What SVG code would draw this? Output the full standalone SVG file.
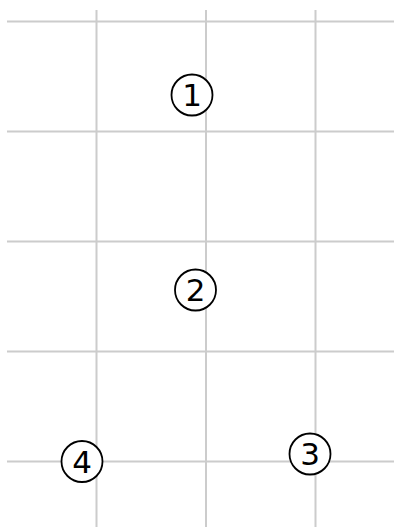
<svg xmlns="http://www.w3.org/2000/svg" width="394" height="527" viewBox="0 0 394 527">
<style>
.grid line{stroke:#cccccc;stroke-width:2}
.node circle{fill:#fff;stroke:#000;stroke-width:1.8}
.node text{font-family:"DejaVu Sans",sans-serif;font-size:31px;text-anchor:middle;fill:#000}
</style>
<rect width="394" height="527" fill="#fff"/>
<g id="connectors" class="grid">
<line x1="7" y1="21.5" x2="394" y2="21.5"/>
<line x1="7" y1="131.5" x2="394" y2="131.5"/>
<line x1="7" y1="241.5" x2="394" y2="241.5"/>
<line x1="7" y1="351.5" x2="394" y2="351.5"/>
<line x1="7" y1="461.5" x2="394" y2="461.5"/>
<line x1="96.5" y1="10" x2="96.5" y2="527"/>
<line x1="206" y1="10" x2="206" y2="527"/>
<line x1="315.5" y1="10" x2="315.5" y2="527"/>
</g>
<g id="n1" class="node"><circle cx="192" cy="95" r="20.5"/><text x="192" y="106.3">1</text></g>
<g id="n2" class="node"><circle cx="195.5" cy="290" r="20.5"/><text x="195.5" y="301.3">2</text></g>
<g id="n3" class="node"><circle cx="310" cy="454" r="20.5"/><text x="310" y="465.3">3</text></g>
<g id="n4" class="node"><circle cx="82" cy="461.5" r="20.5"/><text x="82" y="472.8">4</text></g>
</svg>
